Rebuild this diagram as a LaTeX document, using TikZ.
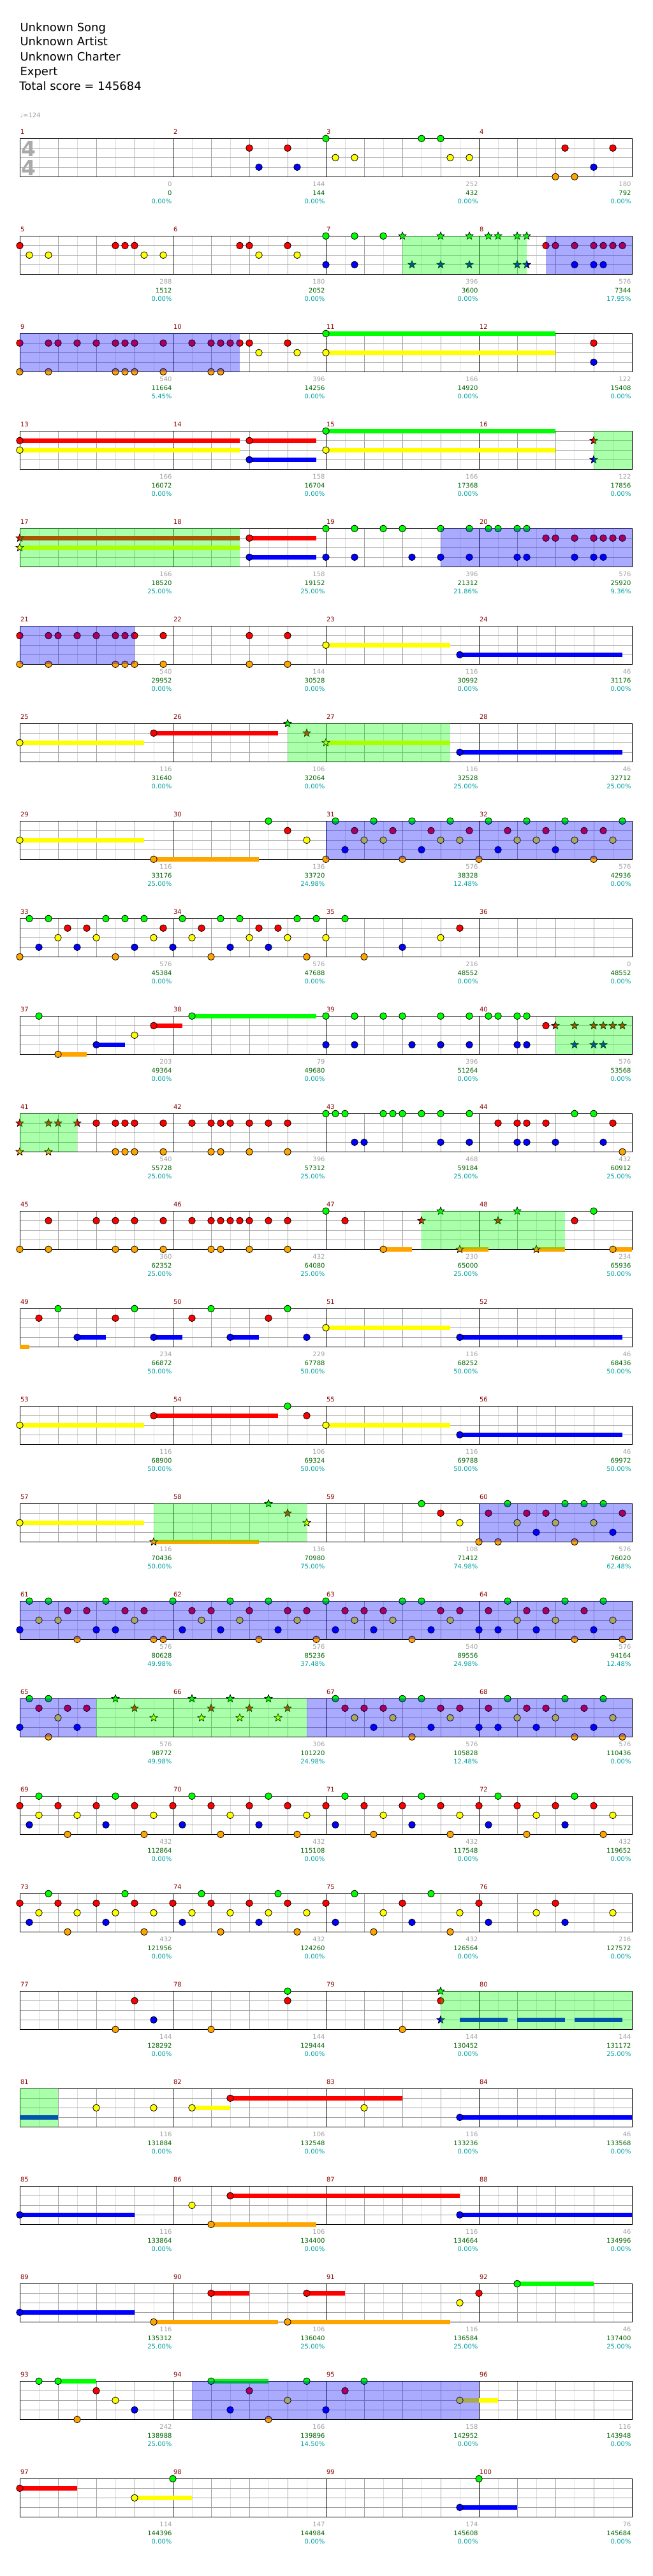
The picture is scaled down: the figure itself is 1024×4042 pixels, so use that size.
\documentclass[tikz,border=0pt]{standalone}
\usepackage{fontspec}
\setmainfont{DejaVu Sans}
\usetikzlibrary{shapes.geometric}

\definecolor{lane0}{RGB}{0,255,0}
\definecolor{lane1}{RGB}{255,0,0}
\definecolor{lane2}{RGB}{255,255,0}
\definecolor{lane3}{RGB}{0,0,255}
\definecolor{lane4}{RGB}{255,165,0}
\definecolor{barred}{RGB}{139,0,0}
\definecolor{midrule}{RGB}{160,160,160}
\definecolor{lightrule}{RGB}{220,220,220}
\definecolor{ptgrey}{RGB}{160,160,160}
\definecolor{ptgreen}{RGB}{0,100,0}
\definecolor{ptcyan}{RGB}{0,160,160}
\definecolor{sigrey}{RGB}{170,170,170}

\tikzset{
  gem/.style={draw=black, line width=0.8pt},
  stargem/.style={star, star points=5, star point ratio=2.3, minimum size=12.5pt,
    inner sep=0pt, draw=black, line width=0.8pt},
  eighthline/.style={draw=lightrule},
  beatline/.style={draw=midrule},
  spfill/.style={fill=lane0, fill opacity=0.333},
  solofill/.style={fill=lane3, fill opacity=0.333},
  barno/.style={anchor=base west, inner sep=0pt, text=barred, font=\fontsize{10}{12}\selectfont},
  ptline/.style={anchor=base east, inner sep=0pt, font=\fontsize{10}{12}\selectfont},
  headline/.style={anchor=base west, inner sep=0pt, font=\fontsize{18}{23}\selectfont},
}

% row helpers: x = 31 + 15*p (p in sixteenths), lane l at top + 15*l
\newcommand{\setrow}[1]{\def\rowno{#1}\pgfmathsetmacro{\ty}{217.3+(#1-1)*153}}
\newcommand{\staff}[1]{%
  \foreach \k in {1,3,...,31} \draw[eighthline] ({31+30*\k},\ty) -- ++(0,60);
  \foreach \k in {2,4,6,10,12,14,18,20,22,26,28,30} \draw[beatline] ({31+30*\k},\ty) -- ++(0,60);
  \foreach \l in {1,2,3} \draw[beatline] (31,{\ty+15*\l}) -- ++(960,0);
  \foreach \k in {8,16,24} \draw ({31+30*\k},\ty) -- ++(0,60);
  \draw (31,\ty) rectangle ++(960,60);
  \foreach \m in {0,...,3} {
    \pgfmathtruncatemacro{\bn}{#1+\m}
    \node[barno] (bar\bn) at ({31.5+240*\m},{\ty-7.3}) {\bn};
  }
}
\newcommand{\holds}[2]{\foreach \a/\b in {#2}
  \fill[lane#1] ({31+15*\a},{\ty+15*#1-3.5}) rectangle ({31+15*\b},{\ty+15*#1+3.5});}
\newcommand{\gems}[2]{\foreach \p in {#2}
  \draw[gem, fill=lane#1] ({31+15*\p},{\ty+15*#1}) circle (5.3);}
\newcommand{\stars}[2]{\foreach \p in {#2}
  \node[stargem, fill=lane#1] (star\rowno-#1-\p) at ({31+15*\p},{\ty+15*#1}) {};}
\newcommand{\spzone}[2]{\fill[spfill] ({31+15*#1},\ty) rectangle ({31+15*#2},{\ty+60});}
\newcommand{\solozone}[2]{\fill[solofill] ({31+15*#1},\ty) rectangle ({31+15*#2},{\ty+60});}
\newcommand{\scores}[1]{\foreach \pts/\tot/\pct [count=\m] in {#1} {
  \node[ptline, text=ptgrey] (pts\rowno-\m) at ({30+240*\m},{\ty+75.5}) {\pts};
  \node[ptline, text=ptgreen] (tot\rowno-\m) at ({30+240*\m},{\ty+89}) {\tot};
  \node[ptline, text=ptcyan] (pct\rowno-\m) at ({30+240*\m},{\ty+101.7}) {\pct\%};
}}

\begin{document}
\begin{tikzpicture}[x=1pt, y=-1pt, line width=1pt]
\useasboundingbox[fill=white] (0,0) rectangle (1024,4042);

\node[headline] (song) at (31,49.3) {Unknown Song};
\node[headline] (artist) at (31,71.7) {Unknown Artist};
\node[headline] (charter) at (31,95.1) {Unknown Charter};
\node[headline] (level) at (31,118.3) {Expert};
\node[headline] (total) at (30,141) {Total score = 145684};
\node[anchor=base west, inner sep=0pt, text=ptgrey, font=\fontsize{10}{12}\selectfont] (tempo) at (31,184) {♩=124};

% measures 1-4
\setrow{1}\staff{1}
\node[anchor=base, inner sep=0pt, text=sigrey, font=\bfseries\fontsize{33}{33}\selectfont] (sigtop) at (44.5,245) {4};
\node[anchor=base, inner sep=0pt, text=sigrey, font=\bfseries\fontsize{33}{33}\selectfont] (sigbot) at (44.5,275) {4};
\gems{0}{32,42,44}
\gems{1}{24,28,57,62}
\gems{2}{33,35,45,47}
\gems{3}{25,29,60}
\gems{4}{56,58}
\scores{0/0/0.00,144/144/0.00,252/432/0.00,180/792/0.00}

% measures 5-8
\setrow{2}\staff{5}
\gems{0}{32,35,38}
\gems{1}{0,10,11,12,23,24,28,55,56,58,60,61,62,63}
\gems{2}{1,3,13,15,25,29}
\gems{3}{32,35,58,60,61}
\stars{0}{40,44,47,49,50,52,53}
\stars{3}{41,44,47,52,53}
\spzone{40}{53}\solozone{55}{64}
\scores{288/1512/0.00,180/2052/0.00,396/3600/0.00,576/7344/17.95}

% measures 9-12
\setrow{3}\staff{9}
\holds{0}{32/56}\holds{2}{32/56}
\gems{0}{32}
\gems{1}{0,3,4,6,8,10,11,12,15,18,20,21,22,23,24,28,60}
\gems{2}{25,29,32}
\gems{3}{60}
\gems{4}{0,3,10,11,12,15,20,21}
\solozone{0}{23}
\scores{540/11664/5.45,396/14256/0.00,166/14920/0.00,122/15408/0.00}

% measures 13-16
\setrow{4}\staff{13}
\holds{0}{32/56}\holds{1}{0/23,24/31}\holds{2}{0/23,32/56}\holds{3}{24/31}
\gems{0}{32}\gems{1}{0,24}\gems{2}{0,32}\gems{3}{24}
\stars{1}{60}\stars{3}{60}
\spzone{60}{64}
\scores{166/16072/0.00,158/16704/0.00,166/17368/0.00,122/17856/0.00}

% measures 17-20
\setrow{5}\staff{17}
\holds{1}{0/23,24/31}\holds{2}{0/23}\holds{3}{24/31}
\stars{1}{0}\stars{2}{0}
\gems{0}{32,35,38,40,44,47,49,50,52,53}
\gems{1}{24,55,56,58,60,61,62,63}
\gems{3}{24,32,35,41,44,47,52,53,58,60,61}
\spzone{0}{23}\solozone{44}{64}
\scores{166/18520/25.00,158/19152/25.00,396/21312/21.86,576/25920/9.36}

% measures 21-24
\setrow{6}\staff{21}
\holds{2}{32/45}\holds{3}{46/63}
\gems{1}{0,3,4,6,8,10,11,12,15,24,28}
\gems{2}{32}\gems{3}{46}
\gems{4}{0,3,10,11,12,15,24,28}
\solozone{0}{12}
\scores{540/29952/0.00,144/30528/0.00,116/30992/0.00,46/31176/0.00}

% measures 25-28
\setrow{7}\staff{25}
\holds{1}{14/27}\holds{2}{0/13,32/45}\holds{3}{46/63}
\gems{1}{14}\gems{2}{0}\gems{3}{46}
\stars{0}{28}\stars{1}{30}\stars{2}{32}
\spzone{28}{45}
\scores{116/31640/0.00,106/32064/0.00,116/32528/25.00,46/32712/25.00}

% measures 29-32
\setrow{8}\staff{29}
\holds{2}{0/13}\holds{4}{14/25}
\gems{0}{26,33,37,41,45,49,53,57,63}
\gems{1}{28,35,39,43,47,51,55,59,61}
\gems{2}{0,30,36,38,44,46,52,54,58,62}
\gems{3}{34,42,50,56}
\gems{4}{14,32,40,48,60}
\solozone{32}{64}
\scores{116/33176/25.00,136/33720/24.98,576/38328/12.48,576/42936/0.00}

% measures 33-36
\setrow{9}\staff{33}
\gems{0}{1,3,9,11,13,17,21,23,29,31,34}
\gems{1}{5,7,15,19,25,27,46}
\gems{2}{4,8,14,18,24,28,32,44}
\gems{3}{2,6,12,16,22,26,40}
\gems{4}{0,10,20,30,36}
\scores{576/45384/0.00,576/47688/0.00,216/48552/0.00,0/48552/0.00}

% measures 37-40
\setrow{10}\staff{37}
\holds{0}{18/31}\holds{1}{14/17}\holds{3}{8/11}\holds{4}{4/7}
\gems{0}{2,18,32,35,38,40,44,47,49,50,52,53}
\gems{1}{14,55}
\gems{2}{12}
\gems{3}{8,32,35,41,44,47,52,53}
\gems{4}{4}
\stars{1}{56,58,60,61,62,63}\stars{3}{58,60,61}
\spzone{56}{64}
\scores{203/49364/0.00,79/49680/0.00,396/51264/0.00,576/53568/0.00}

% measures 41-44
\setrow{11}\staff{41}
\stars{1}{0,3,4,6}\stars{4}{0,3}
\gems{0}{32,33,34,38,39,40,42,44,47,58,60}
\gems{1}{8,10,11,12,15,18,20,21,22,24,26,28,50,52,53,55,62}
\gems{3}{35,36,44,47,52,53,56,61}
\gems{4}{10,11,12,15,20,21,24,28,63}
\spzone{0}{6}
\scores{540/55728/25.00,396/57312/25.00,468/59184/25.00,432/60912/25.00}

% measures 45-48
\setrow{12}\staff{45}
\holds{4}{38/41,46/49,54/57,62/64}
\gems{0}{32,60}
\gems{1}{3,8,10,12,15,18,20,21,22,23,24,26,28,34,58}
\gems{4}{0,3,10,12,15,20,21,24,28,38,62}
\stars{0}{44,52}\stars{1}{42,50}\stars{4}{46,54}
\spzone{42}{57}
\scores{360/62352/25.00,432/64080/25.00,230/65000/25.00,234/65936/50.00}

% measures 49-52
\setrow{13}\staff{49}
\holds{2}{32/45}\holds{3}{6/9,14/17,22/25,46/63}\holds{4}{0/1}
\gems{0}{4,12,20,28}
\gems{1}{2,10,18,26}
\gems{2}{32}
\gems{3}{6,14,22,30,46}
\scores{234/66872/50.00,229/67788/50.00,116/68252/50.00,46/68436/50.00}

% measures 53-56
\setrow{14}\staff{53}
\holds{1}{14/27}\holds{2}{0/13,32/45}\holds{3}{46/63}
\gems{0}{28}\gems{1}{14,30}\gems{2}{0,32}\gems{3}{46}
\scores{116/68900/50.00,106/69324/50.00,116/69788/50.00,46/69972/50.00}

% measures 57-60
\setrow{15}\staff{57}
\holds{2}{0/13}\holds{4}{14/25}
\gems{0}{42,51,57,59,61}
\gems{1}{44,49,53,55,63}
\gems{2}{0,46,52,56,60}
\gems{3}{54,62}
\gems{4}{48,50,58}
\stars{0}{26}\stars{1}{28}\stars{2}{30}\stars{4}{14}
\spzone{14}{30}\solozone{48}{64}
\scores{116/70436/50.00,136/70980/75.00,108/71412/74.98,576/76020/62.48}

% measures 61-64
\setrow{16}\staff{61}
\gems{0}{1,3,9,16,22,26,32,40,42,51,57,61}
\gems{1}{5,7,11,13,18,20,24,28,30,34,36,38,44,46,49,53,55,59}
\gems{2}{2,4,12,19,23,29,35,39,45,52,56,62}
\gems{3}{0,8,10,17,21,27,33,37,43,48,50,54,60}
\gems{4}{6,14,15,25,31,41,58,63}
\solozone{0}{64}
\scores{576/80628/49.98,576/85236/37.48,540/89556/24.98,576/94164/12.48}

% measures 65-68
\setrow{17}\staff{65}
\gems{0}{1,3,33,40,42,51,57,61}
\gems{1}{2,5,7,34,36,38,44,46,49,53,55,59}
\gems{2}{4,35,39,45,52,56,62}
\gems{3}{0,6,37,43,48,50,54,60}
\gems{4}{3,41,58,63}
\stars{0}{10,18,22,26}\stars{1}{12,20,24,28}\stars{2}{14,19,23,27}
\solozone{0}{8}\spzone{8}{30}\solozone{30}{64}
\scores{576/98772/49.98,306/101220/24.98,576/105828/12.48,576/110436/0.00}

% measures 69-72
\setrow{18}\staff{69}
\gems{0}{2,10,18,26,34,42,50,58}
\gems{1}{0,4,8,12,16,20,24,28,32,36,40,44,48,52,56,60}
\gems{2}{2,6,14,22,30,38,46,54,62}
\gems{3}{1,9,17,25,33,41,49,57}
\gems{4}{5,13,21,29,37,45,53,61}
\scores{432/112864/0.00,432/115108/0.00,432/117548/0.00,432/119652/0.00}

% measures 73-76
\setrow{19}\staff{73}
\gems{0}{3,11,19,27,35,43}
\gems{1}{0,4,8,12,16,20,24,28,32,40,48,56}
\gems{2}{2,6,10,14,18,22,26,30,38,46,54,62}
\gems{3}{1,9,17,25,33,41,49,57}
\gems{4}{5,13,21,29,37,45}
\scores{432/121956/0.00,432/124260/0.00,432/126564/0.00,216/127572/0.00}

% measures 77-80
\setrow{20}\staff{77}
\holds{3}{46/51,52/57,58/63}
\gems{0}{28}
\gems{1}{12,28,44}
\gems{3}{14}
\gems{4}{10,20,40}
\stars{0}{44}\stars{3}{44}
\spzone{44}{64}
\scores{144/128292/0.00,144/129444/0.00,144/130452/0.00,144/131172/25.00}

% measures 81-84
\setrow{21}\staff{81}
\holds{3}{0/4,46/64}\holds{2}{18/22}\holds{1}{22/40}
\gems{2}{8,14,18,36}\gems{1}{22}\gems{3}{46}
\spzone{0}{4}
\scores{116/131884/0.00,106/132548/0.00,116/133236/0.00,46/133568/0.00}

% measures 85-88
\setrow{22}\staff{85}
\holds{3}{0/12,46/64}\holds{4}{20/31}\holds{1}{22/46}
\gems{3}{0,46}\gems{4}{20}\gems{1}{22}\gems{2}{18}
\scores{116/133864/0.00,106/134400/0.00,116/134664/0.00,46/134996/0.00}

% measures 89-92
\setrow{23}\staff{89}
\holds{3}{0/12}\holds{4}{14/27,28/45}\holds{1}{20/24,30/34}\holds{0}{52/60}
\gems{3}{0}\gems{4}{14,28}\gems{1}{20,30,48}\gems{0}{52}\gems{2}{46}
\scores{116/135312/25.00,106/136040/25.00,116/136584/25.00,46/137400/25.00}

% measures 93-96
\setrow{24}\staff{93}
\holds{0}{4/8,20/26}\holds{2}{46/50}
\gems{0}{2,4,20,30,36}\gems{1}{8,24,34}\gems{2}{10,28,46}\gems{3}{12,22,32}\gems{4}{6,26}
\solozone{18}{48}
\scores{242/138988/25.00,166/139896/14.50,158/142952/0.00,116/143948/0.00}

% measures 97-100
\setrow{25}\staff{97}
\holds{1}{0/6}\holds{2}{12/18}\holds{3}{46/52}
\gems{1}{0}\gems{2}{12}\gems{0}{16,48}\gems{3}{46}
\scores{114/144396/0.00,147/144984/0.00,174/145608/0.00,76/145684/0.00}
\end{tikzpicture}
\end{document}
